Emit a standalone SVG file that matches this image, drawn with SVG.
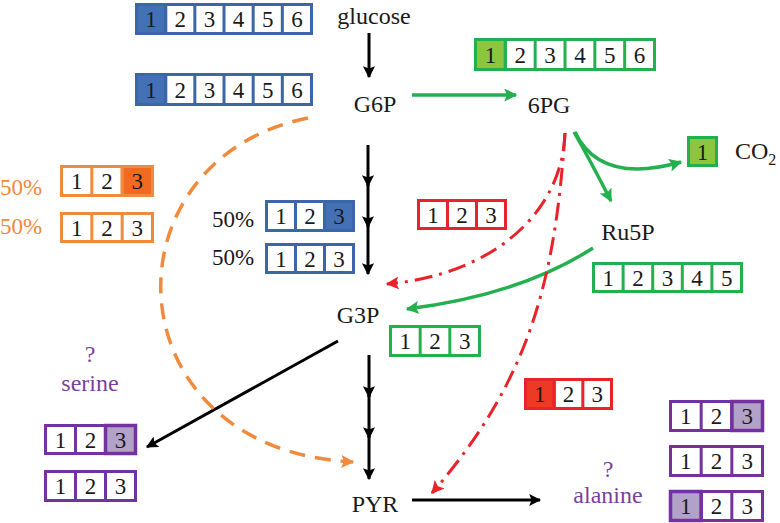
<svg xmlns="http://www.w3.org/2000/svg" width="780" height="523" viewBox="0 0 780 523">
<style>
text{font-family:"Liberation Serif","Times New Roman",serif;fill:#1a1a1a}
.lbl{font-size:24px;text-anchor:middle}
.d{font-size:23px;text-anchor:middle}
.pct{font-size:23px}
.o{fill:#F0893A}
.p{fill:#7B3FA0}
.box{fill:#fff;stroke-width:3}
.sep{stroke-width:3}
.bl{stroke:#3B66A8}
.gr{stroke:#24B04E}
.or{stroke:#F08A3C}
.rd{stroke:#E8232A}
.pu{stroke:#7431A2}
.conn{fill:none}
.k{stroke:#000;stroke-width:3}
.g{stroke:#24B04E;stroke-width:3.5}
.r{stroke:#E8232A;stroke-width:3;stroke-dasharray:18 7 3 7}
.oa{stroke:#F08A3C;stroke-width:3.5;stroke-dasharray:16 10}
</style>
<defs>
<marker id="ak" viewBox="0 0 10 10" refX="9" refY="5" markerWidth="12" markerHeight="12" markerUnits="userSpaceOnUse" orient="auto"><path d="M0,0 L10,5 L0,10 L2,5 z" fill="#000"/></marker>
<marker id="ag" viewBox="0 0 10 10" refX="9" refY="5" markerWidth="13" markerHeight="13" markerUnits="userSpaceOnUse" orient="auto"><path d="M0,0 L10,5 L0,10 L2,5 z" fill="#24B04E"/></marker>
<marker id="ar" viewBox="0 0 10 10" refX="9" refY="5" markerWidth="13" markerHeight="13" markerUnits="userSpaceOnUse" orient="auto"><path d="M0,0 L10,5 L0,10 L2,5 z" fill="#E8232A"/></marker>
<marker id="ao" viewBox="0 0 10 10" refX="9" refY="5" markerWidth="13" markerHeight="13" markerUnits="userSpaceOnUse" orient="auto"><path d="M0,0 L10,5 L0,10 L2,5 z" fill="#F08A3C"/></marker>
</defs>

<g id="connectors" class="conn">
<line class="k" x1="369" y1="33" x2="369" y2="77" marker-end="url(#ak)"/>
<line class="k" x1="368" y1="145" x2="368" y2="186" marker-end="url(#ak)"/>
<line class="k" x1="368" y1="184" x2="368" y2="227" marker-end="url(#ak)"/>
<line class="k" x1="368" y1="225" x2="368" y2="274" marker-end="url(#ak)"/>
<line class="k" x1="369" y1="355" x2="369" y2="397" marker-end="url(#ak)"/>
<line class="k" x1="369" y1="395" x2="369" y2="438" marker-end="url(#ak)"/>
<line class="k" x1="369" y1="436" x2="369" y2="479" marker-end="url(#ak)"/>
<line class="k" x1="338" y1="341" x2="147" y2="447" marker-end="url(#ak)"/>
<line class="k" x1="412" y1="500" x2="540" y2="500" marker-end="url(#ak)"/>
<line class="g" x1="412" y1="95" x2="516" y2="95" marker-end="url(#ag)"/>
<path class="g" d="M575,132 Q600,185 681,162" marker-end="url(#ag)"/>
<path class="g" d="M574,132 Q590,160 611,201" marker-end="url(#ag)"/>
<path class="g" d="M593,248 Q520,295 407,309" marker-end="url(#ag)"/>
<path class="r" d="M565,133 C562,215 490,275 387,284" marker-end="url(#ar)"/>
<path class="r" d="M565,133 C555,280 530,380 432,493" marker-end="url(#ar)"/>
<path class="oa" d="M308,118 C100,160 110,450 353,462" marker-end="url(#ao)"/>
</g>

<g id="glucose"><text class="lbl" x="374" y="24">glucose</text></g>
<g id="G6P"><text class="lbl" x="375" y="112">G6P</text></g>
<g id="6PG"><text class="lbl" x="549" y="113">6PG</text></g>
<g id="CO2"><text x="735" y="159" style="font-size:24px">CO<tspan dy="6" style="font-size:16px">2</tspan></text></g>
<g id="Ru5P"><text class="lbl" x="628" y="240">Ru5P</text></g>
<g id="G3P"><text class="lbl" x="358" y="323">G3P</text></g>
<g id="PYR"><text class="lbl" x="375" y="512">PYR</text></g>
<g id="serine"><text class="lbl p" x="90" y="362">?</text><text class="lbl p" x="90" y="391">serine</text></g>
<g id="alanine"><text class="lbl p" x="608" y="477">?</text><text class="lbl p" x="608" y="503">alanine</text></g>

<g id="box-glucose">
<rect class="box bl" x="136.5" y="4.5" width="175" height="29"/>
<rect x="136.5" y="4.5" width="29.17" height="29" fill="#4471B5" class="bl" stroke-width="3"/>
<g class="sep bl"><line x1="165.67" y1="4.5" x2="165.67" y2="33.5"/><line x1="194.83" y1="4.5" x2="194.83" y2="33.5"/><line x1="224" y1="4.5" x2="224" y2="33.5"/><line x1="253.17" y1="4.5" x2="253.17" y2="33.5"/><line x1="282.33" y1="4.5" x2="282.33" y2="33.5"/></g>
<text class="d" x="151.1" y="27">1</text><text class="d" x="180.25" y="27">2</text><text class="d" x="209.4" y="27">3</text><text class="d" x="238.6" y="27">4</text><text class="d" x="267.75" y="27">5</text><text class="d" x="296.9" y="27">6</text>
</g>

<g id="box-G6P">
<rect class="box bl" x="136.5" y="74.5" width="175" height="30"/>
<rect x="136.5" y="74.5" width="29.17" height="30" fill="#4471B5" class="bl" stroke-width="3"/>
<g class="sep bl"><line x1="165.67" y1="74.5" x2="165.67" y2="104.5"/><line x1="194.83" y1="74.5" x2="194.83" y2="104.5"/><line x1="224" y1="74.5" x2="224" y2="104.5"/><line x1="253.17" y1="74.5" x2="253.17" y2="104.5"/><line x1="282.33" y1="74.5" x2="282.33" y2="104.5"/></g>
<text class="d" x="151.1" y="97.5">1</text><text class="d" x="180.25" y="97.5">2</text><text class="d" x="209.4" y="97.5">3</text><text class="d" x="238.6" y="97.5">4</text><text class="d" x="267.75" y="97.5">5</text><text class="d" x="296.9" y="97.5">6</text>
</g>

<g id="box-6PG">
<rect class="box gr" x="475.5" y="39.5" width="179" height="30"/>
<rect x="475.5" y="39.5" width="29.83" height="30" fill="#8CC63E" class="gr" stroke-width="3"/>
<g class="sep gr"><line x1="505.33" y1="39.5" x2="505.33" y2="69.5"/><line x1="535.17" y1="39.5" x2="535.17" y2="69.5"/><line x1="565" y1="39.5" x2="565" y2="69.5"/><line x1="594.83" y1="39.5" x2="594.83" y2="69.5"/><line x1="624.67" y1="39.5" x2="624.67" y2="69.5"/></g>
<text class="d" x="490.4" y="62.5">1</text><text class="d" x="520.25" y="62.5">2</text><text class="d" x="550.1" y="62.5">3</text><text class="d" x="579.9" y="62.5">4</text><text class="d" x="609.75" y="62.5">5</text><text class="d" x="639.6" y="62.5">6</text>
</g>

<g id="box-CO2">
<rect x="688.5" y="137.5" width="28" height="28" fill="#8CC63E" class="gr" stroke-width="3"/>
<text class="d" x="702.5" y="159.5">1</text>
</g>

<g id="box-orange1">
<text class="pct o" x="0" y="195">50%</text>
<rect class="box or" x="61.5" y="166.5" width="91" height="29"/>
<rect x="122.17" y="166.5" width="30.33" height="29" fill="#F26A21" class="or" stroke-width="3"/>
<g class="sep or"><line x1="91.83" y1="166.5" x2="91.83" y2="195.5"/><line x1="122.17" y1="166.5" x2="122.17" y2="195.5"/></g>
<text class="d" x="76.7" y="189">1</text><text class="d" x="107" y="189">2</text><text class="d" x="137.3" y="189">3</text>
</g>

<g id="box-orange2">
<text class="pct o" x="0" y="234">50%</text>
<rect class="box or" x="61.5" y="213.5" width="91" height="28"/>
<g class="sep or"><line x1="91.83" y1="213.5" x2="91.83" y2="241.5"/><line x1="122.17" y1="213.5" x2="122.17" y2="241.5"/></g>
<text class="d" x="76.7" y="235.5">1</text><text class="d" x="107" y="235.5">2</text><text class="d" x="137.3" y="235.5">3</text>
</g>

<g id="box-blue3a">
<text class="pct" x="212" y="227">50%</text>
<rect class="box bl" x="266.5" y="201.5" width="87" height="29"/>
<rect x="324.5" y="201.5" width="29" height="29" fill="#4471B5" class="bl" stroke-width="3"/>
<g class="sep bl"><line x1="295.5" y1="201.5" x2="295.5" y2="230.5"/><line x1="324.5" y1="201.5" x2="324.5" y2="230.5"/></g>
<text class="d" x="281" y="224">1</text><text class="d" x="310" y="224">2</text><text class="d" x="339" y="224">3</text>
</g>

<g id="box-blue3b">
<text class="pct" x="212" y="265">50%</text>
<rect class="box bl" x="266.5" y="244.5" width="87" height="28"/>
<g class="sep bl"><line x1="295.5" y1="244.5" x2="295.5" y2="272.5"/><line x1="324.5" y1="244.5" x2="324.5" y2="272.5"/></g>
<text class="d" x="281" y="266.5">1</text><text class="d" x="310" y="266.5">2</text><text class="d" x="339" y="266.5">3</text>
</g>

<g id="box-red1">
<rect class="box rd" x="418.5" y="200.5" width="87" height="28"/>
<g class="sep rd"><line x1="447.5" y1="200.5" x2="447.5" y2="228.5"/><line x1="476.5" y1="200.5" x2="476.5" y2="228.5"/></g>
<text class="d" x="433" y="222.5">1</text><text class="d" x="462" y="222.5">2</text><text class="d" x="491" y="222.5">3</text>
</g>

<g id="box-Ru5P">
<rect class="box gr" x="593.5" y="263.5" width="148" height="28"/>
<g class="sep gr"><line x1="623.1" y1="263.5" x2="623.1" y2="291.5"/><line x1="652.7" y1="263.5" x2="652.7" y2="291.5"/><line x1="682.3" y1="263.5" x2="682.3" y2="291.5"/><line x1="711.9" y1="263.5" x2="711.9" y2="291.5"/></g>
<text class="d" x="608.3" y="285.5">1</text><text class="d" x="637.9" y="285.5">2</text><text class="d" x="667.5" y="285.5">3</text><text class="d" x="697.1" y="285.5">4</text><text class="d" x="726.7" y="285.5">5</text>
</g>

<g id="box-green3">
<rect class="box gr" x="390.5" y="326.5" width="89" height="29"/>
<g class="sep gr"><line x1="420.17" y1="326.5" x2="420.17" y2="355.5"/><line x1="449.83" y1="326.5" x2="449.83" y2="355.5"/></g>
<text class="d" x="405.3" y="349">1</text><text class="d" x="435" y="349">2</text><text class="d" x="464.7" y="349">3</text>
</g>

<g id="box-red2">
<rect class="box rd" x="525.5" y="379.5" width="86" height="29"/>
<rect x="525.5" y="379.5" width="28.67" height="29" fill="#EE3A24" class="rd" stroke-width="3"/>
<g class="sep rd"><line x1="554.17" y1="379.5" x2="554.17" y2="408.5"/><line x1="582.83" y1="379.5" x2="582.83" y2="408.5"/></g>
<text class="d" x="539.8" y="402">1</text><text class="d" x="568.5" y="402">2</text><text class="d" x="597.2" y="402">3</text>
</g>

<g id="box-serine1">
<rect class="box pu" x="45.5" y="425.5" width="90" height="28" stroke-width="3.5"/>
<rect x="105.5" y="425.5" width="30" height="28" fill="#B2A1C9" class="pu" stroke-width="3.5"/>
<g class="sep pu"><line x1="75.5" y1="425.5" x2="75.5" y2="453.5"/><line x1="105.5" y1="425.5" x2="105.5" y2="453.5"/></g>
<text class="d" x="60.5" y="447.5">1</text><text class="d" x="90.5" y="447.5">2</text><text class="d" x="120.5" y="447.5">3</text>
</g>

<g id="box-serine2">
<rect class="box pu" x="45.5" y="471.5" width="90" height="29" stroke-width="3.5"/>
<g class="sep pu"><line x1="75.5" y1="471.5" x2="75.5" y2="500.5"/><line x1="105.5" y1="471.5" x2="105.5" y2="500.5"/></g>
<text class="d" x="60.5" y="494">1</text><text class="d" x="90.5" y="494">2</text><text class="d" x="120.5" y="494">3</text>
</g>

<g id="box-alanine1">
<rect class="box pu" x="670.5" y="401.5" width="92" height="29" stroke-width="3.5"/>
<rect x="731.83" y="401.5" width="30.67" height="29" fill="#B2A1C9" class="pu" stroke-width="3.5"/>
<g class="sep pu"><line x1="701.17" y1="401.5" x2="701.17" y2="430.5"/><line x1="731.83" y1="401.5" x2="731.83" y2="430.5"/></g>
<text class="d" x="685.8" y="424">1</text><text class="d" x="716.5" y="424">2</text><text class="d" x="747.2" y="424">3</text>
</g>

<g id="box-alanine2">
<rect class="box pu" x="670.5" y="446.5" width="92" height="29" stroke-width="3.5"/>
<g class="sep pu"><line x1="701.17" y1="446.5" x2="701.17" y2="475.5"/><line x1="731.83" y1="446.5" x2="731.83" y2="475.5"/></g>
<text class="d" x="685.8" y="469">1</text><text class="d" x="716.5" y="469">2</text><text class="d" x="747.2" y="469">3</text>
</g>

<g id="box-alanine3">
<rect class="box pu" x="670.5" y="491.5" width="92" height="29" stroke-width="3.5"/>
<rect x="670.5" y="491.5" width="30.67" height="29" fill="#B2A1C9" class="pu" stroke-width="3.5"/>
<g class="sep pu"><line x1="701.17" y1="491.5" x2="701.17" y2="520.5"/><line x1="731.83" y1="491.5" x2="731.83" y2="520.5"/></g>
<text class="d" x="685.8" y="514">1</text><text class="d" x="716.5" y="514">2</text><text class="d" x="747.2" y="514">3</text>
</g>
</svg>
